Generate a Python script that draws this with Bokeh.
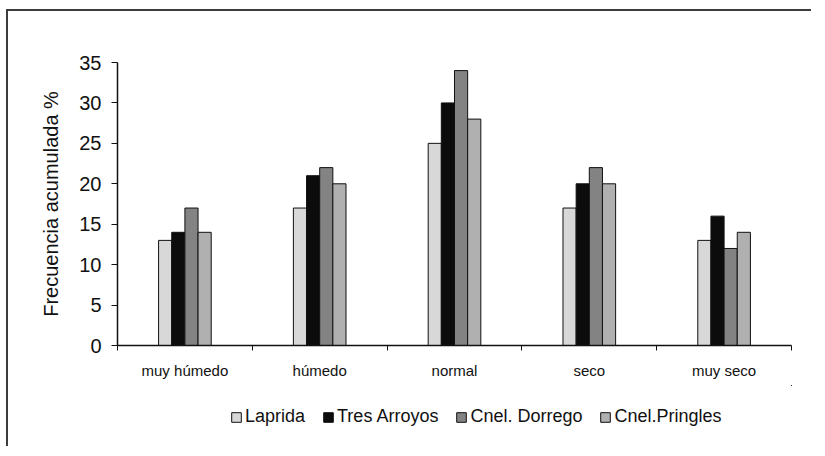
from bokeh.plotting import figure
from bokeh.models import Range1d, FixedTicker, Legend, LegendItem
from bokeh.layouts import column
from bokeh.embed import file_html
from bokeh.resources import INLINE

categories = ["muy húmedo", "húmedo", "normal", "seco", "muy seco"]
series_names = ["Laprida", "Tres Arroyos", "Cnel. Dorrego", "Cnel.Pringles"]
laprida = [13, 17, 25, 17, 13]
tres_arroyos = [14, 21, 30, 20, 16]
cnel_dorrego = [17, 22, 34, 22, 12]
cnel_pringles = [14, 20, 28, 20, 14]
y_ticks = [0, 5, 10, 15, 20, 25, 30, 35]

series_values = [laprida, tres_arroyos, cnel_dorrego, cnel_pringles]
colors = ["#d8d8d8", "#0c0c0c", "#838383", "#b0b0b0"]

FONT = "Liberation Sans"
n = len(categories)
bar_w = 0.0976
TOTAL_W = 803


def bar_xs(j):
    return [i + 0.5 + (j - 1.5) * bar_w for i in range(n)]


p = figure(frame_width=674, frame_height=283, output_backend="svg", toolbar_location=None,
           x_range=Range1d(0, n), y_range=Range1d(0, 35),
           min_border_left=109, min_border_right=20, min_border_top=51, min_border_bottom=40)
p.outline_line_color = None
p.xgrid.visible = False
p.ygrid.visible = False
p.background_fill_color = "white"
p.border_fill_color = "white"

for j, (name, vals, col) in enumerate(zip(series_names, series_values, colors)):
    p.vbar(x=bar_xs(j), top=vals, width=bar_w, bottom=0, fill_color=col,
           line_color="#111111", line_width=1)

# y axis
ya = p.yaxis[0]
ya.ticker = FixedTicker(ticks=y_ticks)
ya.minor_tick_line_color = None
ya.major_tick_in = 0
ya.major_tick_out = 6
ya.major_tick_line_color = "#111111"
ya.axis_line_color = "#111111"
ya.axis_line_width = 1.5
ya.major_label_text_font = FONT
ya.major_label_text_font_size = "20px"
ya.major_label_text_color = "#111111"
ya.major_label_standoff = 10
ya.axis_label = "Frecuencia acumulada %"
ya.axis_label_text_font = FONT
ya.axis_label_text_font_size = "20px"
ya.axis_label_text_font_style = "normal"
ya.axis_label_text_color = "#111111"
ya.axis_label_standoff = 14

# x axis: labels at centres, ticks at boundaries
xa = p.xaxis[0]
xa.ticker = FixedTicker(ticks=[i + 0.5 for i in range(n)], minor_ticks=list(range(n + 1)))
xa.major_label_overrides = {i + 0.5: c for i, c in enumerate(categories)}
xa.major_tick_in = 0
xa.major_tick_out = 0
xa.major_tick_line_color = None
xa.minor_tick_in = 0
xa.minor_tick_out = 5
xa.minor_tick_line_color = "#111111"
xa.axis_line_color = "#111111"
xa.axis_line_width = 1.5
xa.major_label_text_font = FONT
xa.major_label_text_font_size = "15px"
xa.major_label_text_color = "#111111"
xa.major_label_standoff = 11

# legend in its own strip below the chart (its bars lie outside its visible ranges)
lg = figure(width=TOTAL_W, height=61, output_backend="svg", toolbar_location=None,
            x_axis_location=None, y_axis_location=None, min_border=0,
            x_range=Range1d(-200, -199), y_range=Range1d(-200, -199))
lg.outline_line_color = None
lg.xgrid.visible = False
lg.ygrid.visible = False
items = []
for j, (name, vals, col) in enumerate(zip(series_names, series_values, colors)):
    r = lg.vbar(x=bar_xs(j), top=vals, width=bar_w, bottom=0, fill_color=col,
                line_color="#111111", line_width=1)
    items.append(LegendItem(label=name, renderers=[r]))
legend = Legend(items=items, orientation="horizontal", location=(113, 19),
                label_text_font=FONT, label_text_font_size="18px", label_text_color="#111111",
                glyph_width=12, glyph_height=12, label_standoff=3, spacing=17,
                padding=5, margin=0, border_line_color=None, background_fill_alpha=0)
lg.add_layout(legend)

layout = column(p, lg, spacing=0,
                styles={"border-top": "2px solid #3c3c3c", "border-left": "2px solid #3c3c3c",
                        "margin-left": "6px", "margin-top": "9px"})
open("out.html", "w").write(file_html(layout, INLINE))
